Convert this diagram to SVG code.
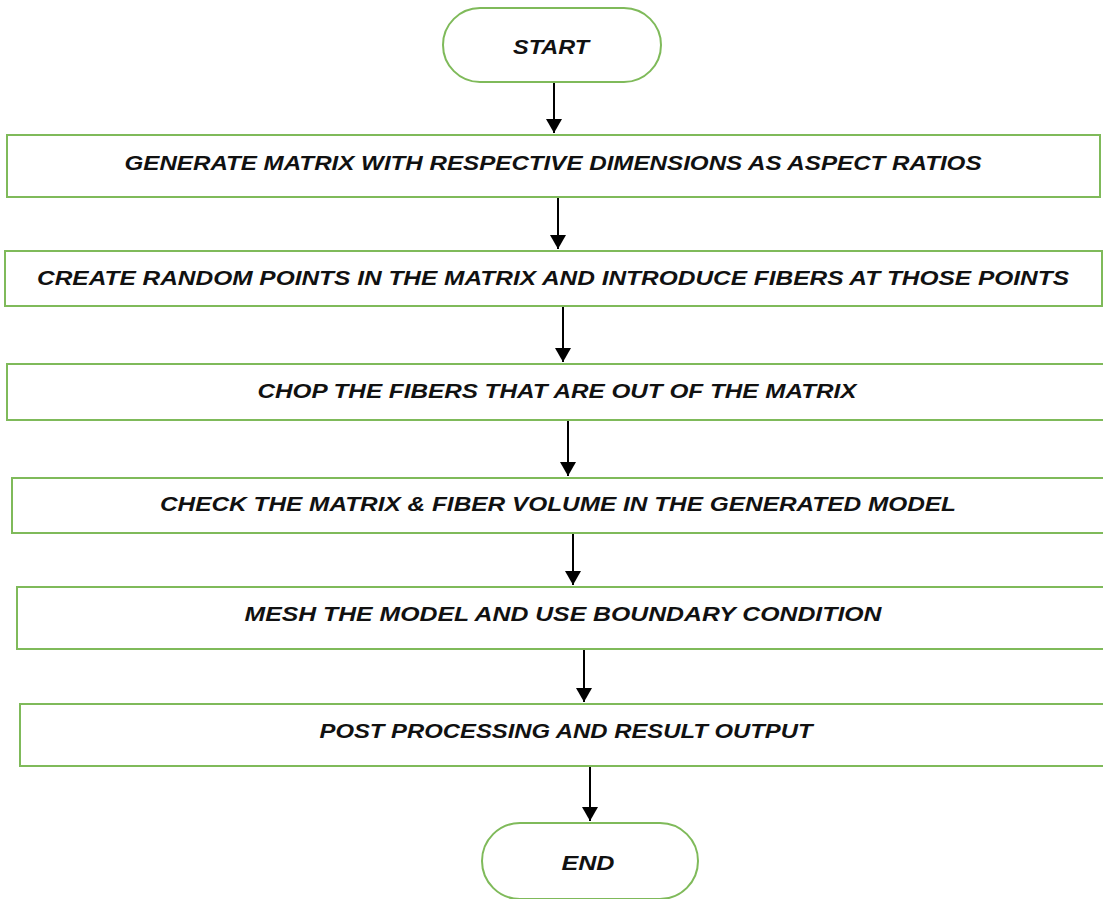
<svg xmlns="http://www.w3.org/2000/svg" width="1103" height="899" viewBox="0 0 1103 899">
<style>
.box{fill:#fff;stroke:#7fba5a;stroke-width:2}
.t{font-family:"Liberation Sans",Arial,sans-serif;font-weight:bold;font-style:italic;font-size:21px;fill:#111;text-anchor:middle}
.c{stroke:#000;stroke-width:2;fill:none;marker-end:url(#ah)}
</style>
<defs>
<marker id="ah" markerWidth="8" markerHeight="8" refX="7" refY="4" orient="auto" markerUnits="strokeWidth">
<path d="M0,0 L7,4 L0,8 Z" fill="#000"/>
</marker>
</defs>
<rect width="1103" height="899" fill="#fff"/>
<g id="connectors">
<line class="c" x1="554" y1="82" x2="554" y2="133"/>
<line class="c" x1="558" y1="197" x2="558" y2="249"/>
<line class="c" x1="563" y1="306" x2="563" y2="362"/>
<line class="c" x1="568" y1="420" x2="568" y2="476"/>
<line class="c" x1="573" y1="533" x2="573" y2="585"/>
<line class="c" x1="584" y1="649" x2="584" y2="702"/>
<line class="c" x1="590" y1="766" x2="590" y2="821"/>
</g>
<g id="start">
<rect class="box" x="443" y="8" width="218" height="74" rx="37"/>
<text class="t" x="551" y="54" textLength="76" lengthAdjust="spacingAndGlyphs">START</text>
</g>
<g id="n1">
<rect class="box" x="7" y="135" width="1093" height="62"/>
<text class="t" x="553" y="170" textLength="857" lengthAdjust="spacingAndGlyphs">GENERATE MATRIX WITH RESPECTIVE DIMENSIONS AS ASPECT RATIOS</text>
</g>
<g id="n2">
<rect class="box" x="5" y="251" width="1097" height="55"/>
<text class="t" x="553" y="285" textLength="1032" lengthAdjust="spacingAndGlyphs">CREATE RANDOM POINTS IN THE MATRIX AND INTRODUCE FIBERS AT THOSE POINTS</text>
</g>
<g id="n3">
<rect class="box" x="7" y="364" width="1110" height="56"/>
<text class="t" x="557" y="398" textLength="599" lengthAdjust="spacingAndGlyphs">CHOP THE FIBERS THAT ARE OUT OF THE MATRIX</text>
</g>
<g id="n4">
<rect class="box" x="12" y="478" width="1110" height="55"/>
<text class="t" x="558" y="511" textLength="796" lengthAdjust="spacingAndGlyphs">CHECK THE MATRIX &amp; FIBER VOLUME IN THE GENERATED MODEL</text>
</g>
<g id="n5">
<rect class="box" x="17" y="587" width="1110" height="62"/>
<text class="t" x="563" y="621" textLength="637" lengthAdjust="spacingAndGlyphs">MESH THE MODEL AND USE BOUNDARY CONDITION</text>
</g>
<g id="n6">
<rect class="box" x="20" y="704" width="1110" height="62"/>
<text class="t" x="566" y="738" textLength="493" lengthAdjust="spacingAndGlyphs">POST PROCESSING AND RESULT OUTPUT</text>
</g>
<g id="end">
<rect class="box" x="482" y="823" width="216" height="76" rx="38"/>
<text class="t" x="588" y="870" textLength="53" lengthAdjust="spacingAndGlyphs">END</text>
</g>
</svg>
